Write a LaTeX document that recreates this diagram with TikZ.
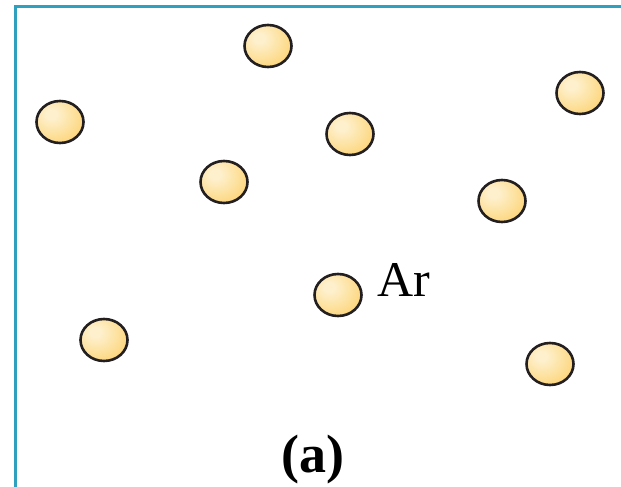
\documentclass[tikz,border=0pt]{standalone}
\usepackage{fontspec}
\setmainfont{Liberation Serif}
\usetikzlibrary{shapes.geometric, positioning}
\definecolor{frameteal}{HTML}{2FA0BE}
\definecolor{atomgold}{HTML}{FCD06A}
\definecolor{atomlight}{HTML}{FEF0CC}
\definecolor{atomrim}{HTML}{231F20}
\pgfdeclareradialshading{atomball}{\pgfpoint{-10bp}{10bp}}{color(0bp)=(atomlight); color(6bp)=(atomlight); color(40bp)=(atomgold); color(100bp)=(atomgold)}

\begin{document}
\begin{tikzpicture}[x=1pt, y=-1pt,
  atom/.style={ellipse, draw=atomrim, line width=2.6pt, shading=atomball,
    minimum width=47pt, minimum height=42pt, inner sep=0pt}]
\useasboundingbox (0,0) rectangle (621,487);

% Rahmen
\draw[frameteal, line width=2.6pt] (15.3,487) -- (15.3,6.7) -- (621,6.7);

% Argon-Atome
\foreach \name/\px/\py in {a1/268/46, a2/60/122, a3/580/93, a4/350/134, a5/224/182,
  a6/502/201, a7/338/295, a8/104/340, a9/550/364}
  \node[atom] (\name) at (\px,\py) {};

% Beschriftung
\node[anchor=base west, inner sep=0pt, font=\fontsize{50}{50}\selectfont] (ar)
  at ([xshift=14pt, yshift=-1pt]a7.east) {Ar};
\node[anchor=base, inner sep=0pt, font=\fontsize{54}{54}\selectfont\bfseries] (label)
  at (313,472) {(a)};
\end{tikzpicture}
\end{document}
